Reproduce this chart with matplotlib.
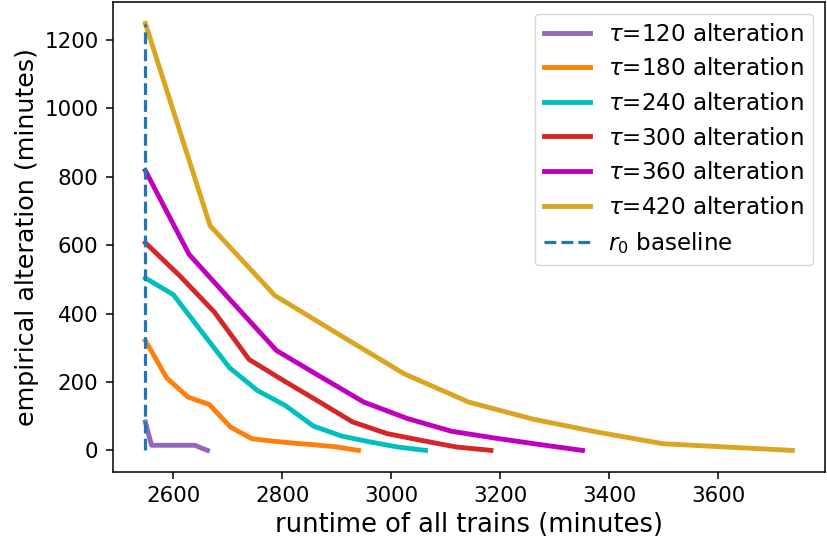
import numpy as np
import matplotlib
matplotlib.use("Agg")
import matplotlib.pyplot as plt

# Datos
r0 = 2549
taus = [120, 180, 240, 300, 360, 420]
x_fin = {120: 2663, 180: 2940, 240: 3063, 300: 3183, 360: 3351, 420: 3736}
alteracion = {
    120: [83, 15, 15, 15, 15, 15, 15, 15, 15, 7, 0],
    180: [321, 212, 156, 134, 68, 34, 27, 21, 16, 10, 0],
    240: [504, 455, 348, 242, 175, 131, 71, 42, 25, 10, 0],
    300: [607, 510, 404, 266, 204, 144, 83, 49, 29, 10, 0],
    360: [818, 573, 432, 292, 216, 141, 93, 56, 36, 17.5, 0],
    420: [1248, 657, 453, 338, 224, 141, 91, 53, 19.5, 9.7, 0],
}
colores = {120: "tab:purple", 180: "tab:orange", 240: "c",
           300: "tab:red", 360: "m", 420: "goldenrod"}

fig = plt.figure(figsize=(8.28, 5.46), dpi=100)
ax = fig.add_axes([0.1365, 0.136, 0.8595, 0.86])

for tau in taus:
    y = alteracion[tau]
    x = np.linspace(r0, x_fin[tau], len(y))
    ax.plot(x, y, color=colores[tau], lw=3.5, label=rf"$\tau$={tau} alteration")

ymax = max(alteracion[420])
ax.plot([r0, r0], [0, ymax], "--", color="tab:blue", lw=2.3, label=r"$r_0$ baseline")

ax.set_xlabel("runtime of all trains (minutes)", fontsize=18.5)
ax.set_ylabel("empirical alteration (minutes)", fontsize=18.3)
ax.tick_params(labelsize=15.4, length=5, width=1.1, pad=5.5)
for s in ax.spines.values():
    s.set_linewidth(1.1)
ax.legend(loc="upper right", fontsize=16.6)

fig.savefig("out.png", dpi=100)
